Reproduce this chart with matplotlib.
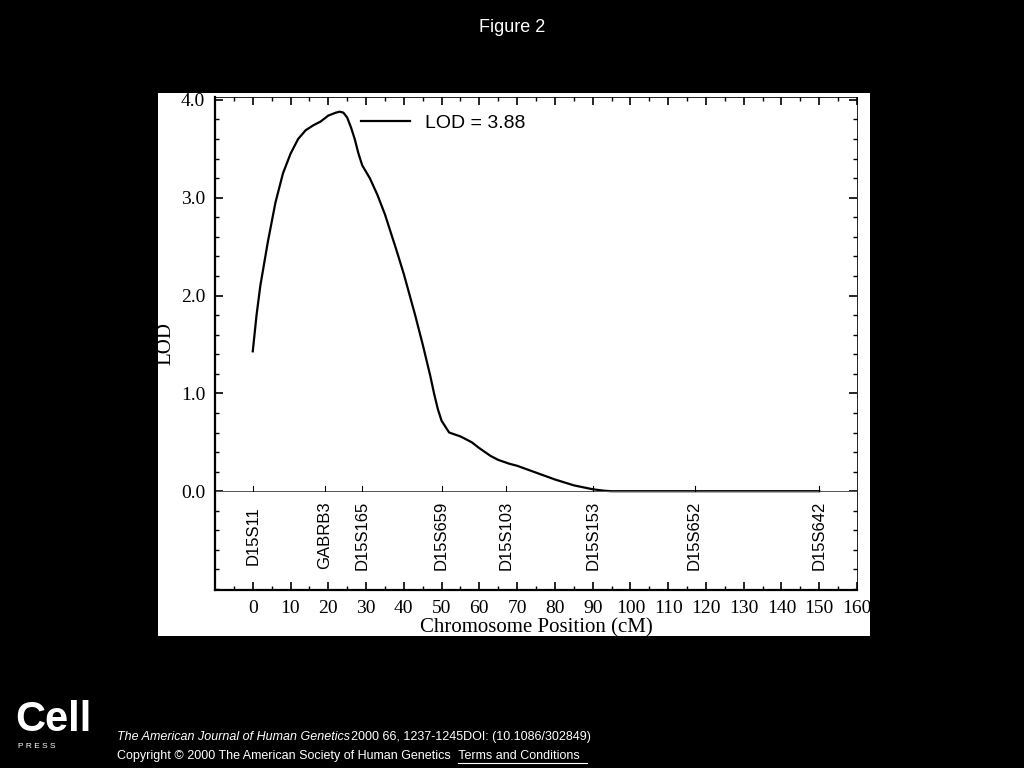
import matplotlib
matplotlib.use("Agg")
import matplotlib.pyplot as plt
from matplotlib.patches import Rectangle

plt.rcParams["font.family"] = "Liberation Sans"
SERIF = "Liberation Serif"

# curve values
pos_cm = [0, 1, 2, 4, 6, 8, 10, 12, 14, 16, 18, 20, 22, 23, 24, 25, 26, 27, 28, 29, 31, 33, 35, 38, 40, 43, 45, 47, 48, 49, 50, 52, 55, 58, 60, 63, 65, 68, 70, 75, 80, 85, 90, 93, 95, 150]
lod = [1.43, 1.8, 2.1, 2.55, 2.95, 3.25, 3.45, 3.6, 3.69, 3.74, 3.78, 3.84, 3.87, 3.88, 3.87, 3.82, 3.72, 3.6, 3.45, 3.33, 3.2, 3.03, 2.83, 2.47, 2.22, 1.8, 1.5, 1.18, 1.0, 0.84, 0.72, 0.6, 0.56, 0.5, 0.44, 0.36, 0.32, 0.28, 0.26, 0.19, 0.12, 0.06, 0.02, 0.005, 0.0, 0.0]

marker_names = ["D15S11", "GABRB3", "D15S165", "D15S659", "D15S103", "D15S153", "D15S652", "D15S642"]
marker_pos = [0, 19, 29, 50, 67, 90, 117, 150]

x_ticks = list(range(0, 161, 10))
y_ticks = [0.0, 1.0, 2.0, 3.0, 4.0]

fig = plt.figure(figsize=(10.24, 7.68), dpi=100, facecolor="black")
W, H = 1024, 768
# white panel behind the chart
fig.patches.append(Rectangle((158 / W, 1 - 636 / H), (870 - 158) / W, (636 - 93) / H,
                             transform=fig.transFigure, facecolor="white", zorder=-5))

ax = fig.add_axes([215 / W, 1 - 590 / H, (857 - 215) / W, (590 - 97) / H])
ax.set_zorder(2)
ax.set_facecolor("white")
ax.plot(pos_cm, lod, color="black", lw=1.6, label="LOD = 3.88")
ax.axhline(0, color="#555555", lw=0.7)
ax.set_xlim(-10, 160)
ax.set_ylim(-1.01, 4.03)
for s in ax.spines.values():
    s.set_linewidth(0.6)
ax.spines["left"].set_linewidth(1.6)
ax.spines["bottom"].set_linewidth(1.6)

ax.set_xticks(x_ticks)
ax.set_xticklabels([str(t) for t in x_ticks], family=SERIF, fontsize=14)
ax.set_yticks(y_ticks)
ax.set_yticklabels([f"{t:.1f}" for t in y_ticks], family=SERIF, fontsize=14)
ax.set_xticks(range(-5, 161, 5), minor=True)
ax.set_yticks([i / 10 for i in range(-10, 41, 2)], minor=True)
ax.tick_params(which="both", direction="in", top=True, right=True, colors="black")
ax.tick_params(which="major", length=6, width=1.2, pad=7)
ax.tick_params(which="minor", length=3, width=1.0)
ax.set_xlabel("Chromosome Position (cM)", family=SERIF, fontsize=15, labelpad=1)
ax.set_ylabel("LOD", family=SERIF, fontsize=15)
ax.yaxis.set_label_coords(-0.062, 0.5)

for name, p in zip(marker_names, marker_pos):
    ax.plot([p, p], [0, 0.05], color="black", lw=0.8)
    ax.text(p, -0.45, name, rotation=90, ha="center", va="center", fontsize=12)

ax.legend(loc="upper left", bbox_to_anchor=(0.2, 1.0), frameon=False, fontsize=14,
          handlelength=2.5)

fig.text(0.5, 1 - 27 / H, "Figure 2", color="white", ha="center", va="center", fontsize=13)
fig.text(15 / W, 1 - 720 / H, "Cell", color="white", fontsize=30, fontweight="bold", va="center")
fig.text(18 / W, 1 - 747 / H, "P R E S S", color="white", fontsize=6, va="center")
fig.text(117 / W, 1 - 737 / H, "The American Journal of Human Genetics", style="italic",
         color="white", fontsize=9, va="center")
fig.text(351 / W, 1 - 737 / H, "2000 66, 1237-1245DOI: (10.1086/302849)",
         color="white", fontsize=9, va="center")
fig.text(117 / W, 1 - 756 / H, "Copyright \u00a9 2000 The American Society of Human Genetics",
         color="white", fontsize=9, va="center")
fig.text(455 / W, 1 - 756 / H, " Terms and Conditions", color="white", fontsize=9, va="center")
fig.add_artist(plt.Line2D([458 / W, 587 / W], [1 - 763 / H] * 2, color="white", lw=0.8))

fig.savefig("out.png", dpi=100, facecolor="black")
